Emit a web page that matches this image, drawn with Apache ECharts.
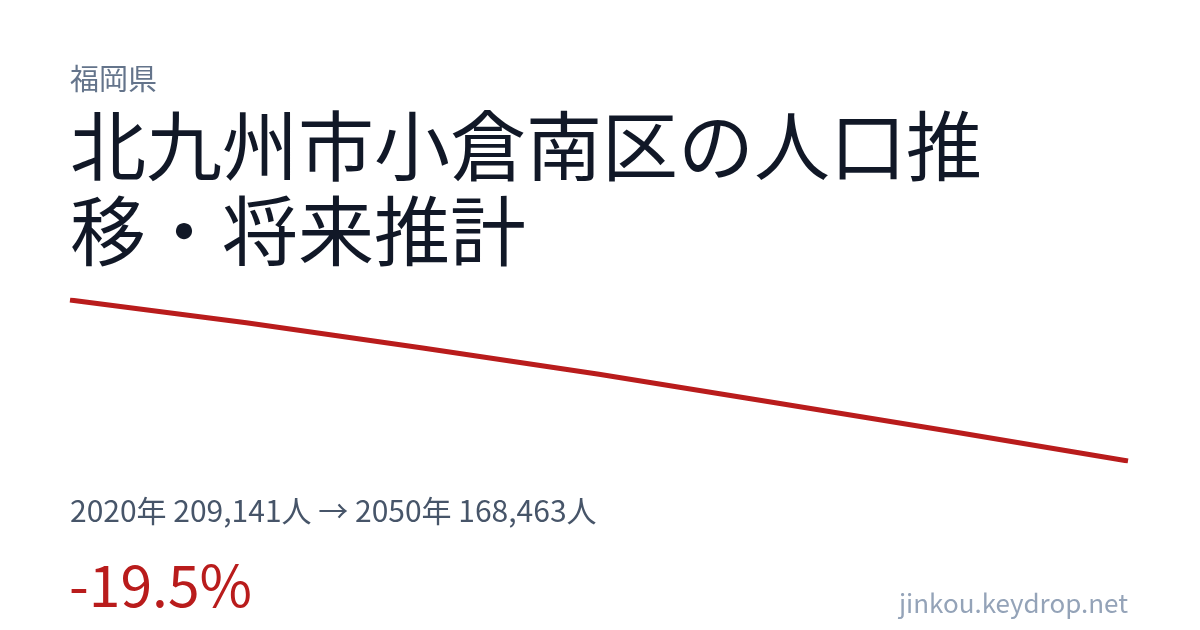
<!DOCTYPE html>
<html>
<head>
<meta charset="utf-8">
<style>
  html, body { margin: 0; padding: 0; background: #ffffff; }
  #chart { width: 1200px; height: 630px; }
</style>
<script src="https://cdn.jsdelivr.net/npm/echarts@6/dist/echarts.min.js"></script>
</head>
<body>
<div id="chart"></div>
<script>
const years = ['2020', '2025', '2030', '2035', '2040', '2045', '2050'];
const population = [209141, 203400, 197000, 190400, 183200, 175900, 168463];
const prefecture = '福岡県';
const titleLine1 = '北九州市小倉南区の人口推';
const titleLine2 = '移・将来推計';
const summary = '2020年 209,141人 → 2050年 168,463人';
const change = '-19.5%';
const site = 'jinkou.keydrop.net';

const FONT = '"Noto Sans CJK JP", "Noto Sans", sans-serif';
const chart = echarts.init(document.getElementById('chart'), null, { renderer: 'canvas' });
chart.setOption({
  backgroundColor: '#ffffff',
  animation: false,
  grid: { left: 70, right: 72, top: 300, bottom: 169, containLabel: false },
  xAxis: {
    type: 'category', data: years, boundaryGap: false, show: false
  },
  yAxis: {
    type: 'value', min: 'dataMin', max: 'dataMax', scale: true, show: false
  },
  series: [{
    type: 'line',
    data: population,
    showSymbol: false,
    symbol: 'none',
    lineStyle: { color: '#b91c1c', width: 5, cap: 'butt', join: 'round' },
    silent: true
  }],
  graphic: [
    { type: 'text', left: 70, top: 64, style: { text: prefecture, font: '29px ' + FONT, fill: '#64748b' } },
    { type: 'text', left: 70, top: 108, style: { text: titleLine1, font: '76px ' + FONT, fill: '#111827' } },
    { type: 'text', left: 70, top: 193, style: { text: titleLine2, font: '76px ' + FONT, fill: '#111827' } },
    { type: 'text', left: 70, top: 496, style: { text: summary, font: '30px ' + FONT, fill: '#475569' } },
    { type: 'text', left: 69, top: 557, style: { text: change, font: '57px ' + FONT, fill: '#b91c1c' } },
    { type: 'text', right: 72, top: 590, style: { text: site, font: '26px ' + FONT, fill: '#94a3b8' } }
  ]
});
</script>
</body>
</html>
